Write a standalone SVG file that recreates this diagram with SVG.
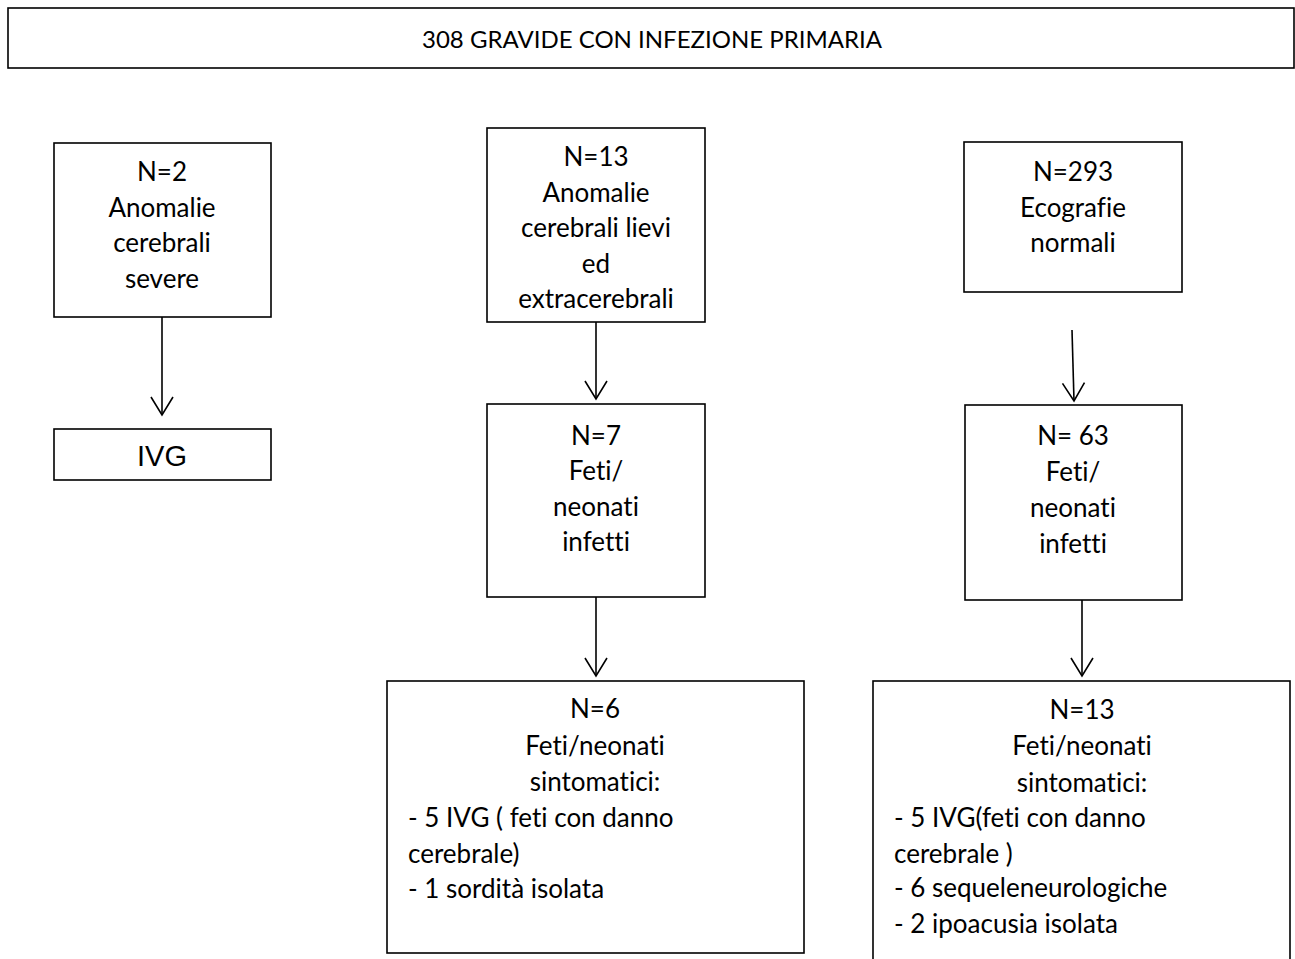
<svg xmlns="http://www.w3.org/2000/svg" width="1295" height="959" viewBox="0 0 1295 959">
<style>
.box{fill:#fff;stroke:#000;stroke-width:1.6}
.t{font-family:Lato,"Open Sans","Liberation Sans",sans-serif;font-size:26px;fill:#000;font-variant-ligatures:none;font-feature-settings:"liga" 0,"dlig" 0}
.c{text-anchor:middle}
.a{font-family:"Liberation Sans",Arial,sans-serif;font-size:29px;fill:#000;text-anchor:middle}
.ttl{font-family:Lato,"Open Sans","Liberation Sans",sans-serif;font-size:24px;fill:#000;text-anchor:middle}
.ln{stroke:#000;stroke-width:1.6;fill:none}
</style>
<defs>
<marker id="ah" markerUnits="userSpaceOnUse" markerWidth="24" markerHeight="26" viewBox="-21 -13 24 26" refX="0" refY="0" orient="auto">
<path d="M-18,-11 L0,0 L-18,11" fill="none" stroke="#000" stroke-width="1.6"/>
</marker>
</defs>
<rect width="1295" height="959" fill="#fff"/>
<g id="top">
<rect class="box" x="8" y="8" width="1286" height="60"/>
<text class="ttl" x="652" y="48">308 GRAVIDE CON INFEZIONE PRIMARIA</text>
</g>
<g id="n2">
<rect class="box" x="54" y="143" width="217" height="174"/>
<text class="t c" x="162" y="181">N=2</text>
<text class="t c" x="162" y="217">Anomalie</text>
<text class="t c" x="162" y="252">cerebrali</text>
<text class="t c" x="162" y="288">severe</text>
</g>
<g id="ivg">
<rect class="box" x="54" y="429" width="217" height="51"/>
<text class="a" x="162" y="466">IVG</text>
</g>
<g id="n13">
<rect class="box" x="487" y="128" width="218" height="194"/>
<text class="t c" x="596" y="166">N=13</text>
<text class="t c" x="596" y="202">Anomalie</text>
<text class="t c" x="596" y="237">cerebrali lievi</text>
<text class="t c" x="596" y="273">ed</text>
<text class="t c" x="596" y="308">extracerebrali</text>
</g>
<g id="n7">
<rect class="box" x="487" y="404" width="218" height="193"/>
<text class="t c" x="596" y="445">N=7</text>
<text class="t c" x="596" y="480">Feti/</text>
<text class="t c" x="596" y="516">neonati</text>
<text class="t c" x="596" y="551">infetti</text>
</g>
<g id="n6">
<rect class="box" x="387" y="681" width="417" height="272"/>
<text class="t c" x="595" y="718">N=6</text>
<text class="t c" x="595" y="755">Feti/neonati</text>
<text class="t c" x="595" y="791">sintomatici:</text>
<text class="t" x="408" y="827">- 5 IVG ( feti con danno</text>
<text class="t" x="408" y="863">cerebrale)</text>
<text class="t" x="408" y="898">- 1 sordità isolata</text>
</g>
<g id="n293">
<rect class="box" x="964" y="142" width="218" height="150"/>
<text class="t c" x="1073" y="181">N=293</text>
<text class="t c" x="1073" y="217">Ecografie</text>
<text class="t c" x="1073" y="252">normali</text>
</g>
<g id="n63">
<rect class="box" x="965" y="405" width="217" height="195"/>
<text class="t c" x="1073" y="445">N= 63</text>
<text class="t c" x="1073" y="481">Feti/</text>
<text class="t c" x="1073" y="517">neonati</text>
<text class="t c" x="1073" y="553">infetti</text>
</g>
<g id="n13b">
<rect class="box" x="873" y="681" width="417" height="290"/>
<text class="t c" x="1082" y="719">N=13</text>
<text class="t c" x="1082" y="755">Feti/neonati</text>
<text class="t c" x="1082" y="792">sintomatici:</text>
<text class="t" x="894" y="827">- 5 IVG(feti con danno</text>
<text class="t" x="894" y="863">cerebrale )</text>
<text class="t" x="894" y="897">- 6 sequeleneurologiche</text>
<text class="t" x="894" y="933">- 2 ipoacusia isolata</text>
</g>
<g id="connectors">
<line class="ln" x1="162" y1="317" x2="162" y2="415" marker-end="url(#ah)"/>
<line class="ln" x1="596" y1="322" x2="596" y2="399" marker-end="url(#ah)"/>
<line class="ln" x1="596" y1="597" x2="596" y2="676" marker-end="url(#ah)"/>
<line class="ln" x1="1072" y1="330" x2="1074" y2="401" marker-end="url(#ah)"/>
<line class="ln" x1="1082" y1="600" x2="1082" y2="676" marker-end="url(#ah)"/>
</g>
</svg>
